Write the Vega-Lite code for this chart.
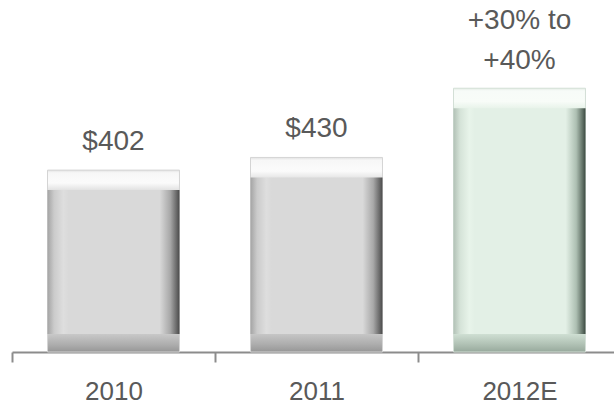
{
  "$schema": "https://vega.github.io/schema/vega-lite/v6.json",
  "autosize": "none",
  "padding": {"left": 12, "top": 0, "right": 0, "bottom": 54},
  "width": 602,
  "height": 352,
  "background": "white",
  "config": {"view": {"stroke": null}, "font": "Liberation Sans"},
  "data": {"values": [
    {"year": "2010", "value": 402, "kind": "actual", "label": "$402"},
    {"year": "2011", "value": 430, "kind": "actual", "label": "$430"},
    {"year": "2012E", "value": 583, "kind": "estimate", "label": ["+30% to", "+40%"]}
  ]},
  "encoding": {
    "x": {"field": "year", "type": "nominal", "sort": null,
      "scale": {"range": [0, 609], "paddingInner": 0, "paddingOuter": 0},
      "axis": {"title": null, "labelAngle": 0, "tickBand": "extent", "domainColor": "#8c8c8c", "domainWidth": 2, "tickColor": "#8c8c8c", "tickWidth": 2, "tickSize": 10, "labelFontSize": 26, "labelColor": "#595959", "labelPadding": 16, "labelFont": "Liberation Sans"}},
    "y": {"field": "value", "type": "quantitative", "scale": {"domain": [0, 778]}, "axis": null}
  },
  "layer": [
    {
      "transform": [{"filter": "datum.kind == 'actual'"}],
      "mark": {"type": "bar", "width": {"band": 0.65}, "stroke": "#d4d4d4", "strokeWidth": 1, "color": {"gradient": "linear", "x1": 0, "y1": 0, "x2": 0, "y2": 1, "stops": [
        {"offset": 0, "color": "#e2e2e2"}, {"offset": 0.015, "color": "#f7f7f7"}, {"offset": 0.07, "color": "#fbfbfb"}, {"offset": 0.11, "color": "#e2e2e2"}, {"offset": 0.9, "color": "#c9c9c9"}, {"offset": 0.96, "color": "#adadad"}, {"offset": 1, "color": "#969696"}]}}
    },
    {
      "transform": [{"filter": "datum.kind == 'actual'"}],
      "mark": {"type": "bar", "width": {"band": 0.65}, "yOffset": 20, "y2Offset": -18, "color": {"gradient": "linear", "x1": 0, "y1": 0, "x2": 1, "y2": 0, "stops": [
        {"offset": 0, "color": "#a4a4a4"}, {"offset": 0.05, "color": "#cbcbcb"}, {"offset": 0.12, "color": "#dedede"}, {"offset": 0.16, "color": "#d9d9d9"}, {"offset": 0.85, "color": "#d9d9d9"}, {"offset": 0.93, "color": "#a8a8a8"}, {"offset": 0.98, "color": "#666666"}, {"offset": 1, "color": "#4a4a4a"}]}},
      "encoding": {"y2": {"datum": 0}}
    },
    {
      "transform": [{"filter": "datum.kind == 'estimate'"}],
      "mark": {"type": "bar", "width": {"band": 0.65}, "stroke": "#d3dfd6", "strokeWidth": 1, "color": {"gradient": "linear", "x1": 0, "y1": 0, "x2": 0, "y2": 1, "stops": [
        {"offset": 0, "color": "#e3ece5"}, {"offset": 0.01, "color": "#f7fbf8"}, {"offset": 0.05, "color": "#f8fcf8"}, {"offset": 0.076, "color": "#e8f3ea"}, {"offset": 0.93, "color": "#d0e0d4"}, {"offset": 0.97, "color": "#b1c2b5"}, {"offset": 1, "color": "#97a99c"}]}}
    },
    {
      "transform": [{"filter": "datum.kind == 'estimate'"}],
      "mark": {"type": "bar", "width": {"band": 0.65}, "yOffset": 20, "y2Offset": -18, "color": {"gradient": "linear", "x1": 0, "y1": 0, "x2": 1, "y2": 0, "stops": [
        {"offset": 0, "color": "#b2c1b6"}, {"offset": 0.05, "color": "#d5e3d8"}, {"offset": 0.12, "color": "#e8f4ea"}, {"offset": 0.16, "color": "#e3f0e6"}, {"offset": 0.85, "color": "#e3f0e6"}, {"offset": 0.93, "color": "#adbfb2"}, {"offset": 0.98, "color": "#5e6e63"}, {"offset": 1, "color": "#3c4a42"}]}},
      "encoding": {"y2": {"datum": 0}}
    },
    {
      "transform": [{"filter": "datum.kind == 'actual'"}],
      "mark": {"type": "text", "baseline": "bottom", "align": "center", "dy": -14, "fontSize": 28, "color": "#595959", "font": "Liberation Sans"},
      "encoding": {"text": {"field": "label"}}
    },
    {
      "transform": [{"filter": "datum.kind == 'estimate'"}],
      "mark": {"type": "text", "baseline": "bottom", "align": "center", "dy": -53, "fontSize": 28, "lineHeight": 40, "color": "#595959", "font": "Liberation Sans"},
      "encoding": {"text": {"field": "label"}}
    }
  ]
}
